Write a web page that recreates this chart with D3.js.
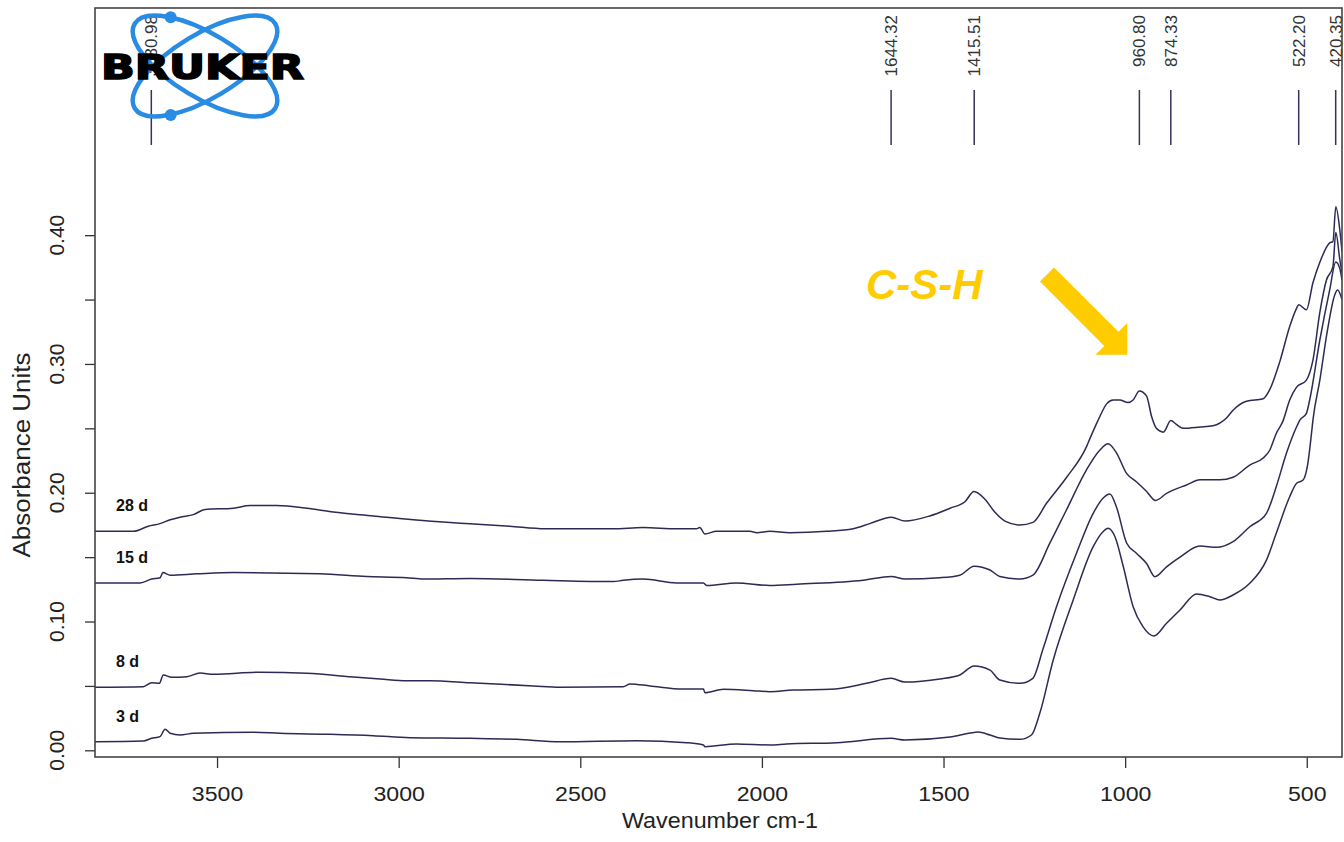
<!DOCTYPE html>
<html>
<head>
<meta charset="utf-8">
<script src="https://cdn.jsdelivr.net/npm/d3@7"></script>
<style>
  html, body { margin: 0; padding: 0; background: #ffffff; }
  svg { display: block; }
</style>
</head>
<body>
<svg id="chart" width="1344" height="842"></svg>
<script>
// FTIR absorbance spectra, [wavenumber cm-1, absorbance]
const spectrum28d = [[3836,0.170],[3730,0.170],[3689,0.174],[3657,0.176],[3629,0.179],[3602,0.181],[3565,0.183],[3533,0.187],[3455,0.188],[3409,0.190],[3336,0.190],[3253,0.188],[3180,0.185],[3070,0.182],[2960,0.179],[2868,0.177],[2804,0.176],[2694,0.174],[2597,0.172],[2410,0.172],[2327,0.173],[2235,0.172],[2180,0.172],[2171,0.173],[2157,0.168],[2125,0.170],[2033,0.170],[2014,0.169],[1978,0.170],[1923,0.169],[1822,0.170],[1749,0.172],[1703,0.176],[1644,0.181],[1606,0.178],[1538,0.182],[1482,0.188],[1441,0.193],[1416,0.201],[1386,0.195],[1359,0.185],[1331,0.178],[1290,0.175],[1254,0.177],[1216,0.192],[1161,0.212],[1106,0.236],[1097,0.242],[1075,0.256],[1070,0.259],[1051,0.269],[1033,0.272],[1015,0.272],[992,0.270],[978,0.272],[961,0.279],[941,0.275],[927,0.259],[914,0.250],[895,0.247],[874,0.256],[859,0.253],[840,0.250],[794,0.251],[758,0.252],[721,0.258],[703,0.264],[666,0.271],[620,0.273],[602,0.280],[574,0.302],[547,0.329],[530,0.342],[522,0.346],[501,0.342],[483,0.363],[464,0.379],[437,0.394],[428,0.395],[420,0.422],[409,0.404],[403,0.387]];

const spectrum15d = [[3836,0.130],[3712,0.130],[3680,0.133],[3657,0.134],[3649,0.138],[3629,0.136],[3556,0.137],[3455,0.138],[3217,0.137],[3088,0.135],[2978,0.134],[2932,0.133],[2804,0.1335],[2602,0.132],[2409,0.131],[2382,0.132],[2327,0.133],[2235,0.130],[2161,0.130],[2152,0.128],[2070,0.130],[1978,0.128],[1904,0.129],[1721,0.132],[1644,0.135],[1606,0.133],[1510,0.134],[1455,0.136],[1416,0.143],[1372,0.140],[1345,0.135],[1290,0.133],[1254,0.136],[1207,0.161],[1161,0.187],[1106,0.218],[1070,0.233],[1047,0.238],[1024,0.231],[996,0.215],[969,0.2085],[941,0.201],[916,0.194],[886,0.1995],[868,0.202],[831,0.206],[794,0.210],[739,0.210],[703,0.212],[657,0.2215],[620,0.227],[602,0.233],[584,0.246],[565,0.256],[547,0.272],[528,0.282],[501,0.2875],[483,0.303],[464,0.340],[446,0.365],[428,0.3755],[420,0.402],[409,0.381],[403,0.371]];

const spectrum8d = [[3836,0.049],[3703,0.0494],[3680,0.0525],[3659,0.052],[3648,0.0585],[3625,0.0567],[3583,0.0571],[3547,0.060],[3510,0.059],[3382,0.0606],[3253,0.0598],[3115,0.0567],[3051,0.0554],[2978,0.054],[2914,0.054],[2804,0.0525],[2629,0.050],[2556,0.049],[2382,0.0494],[2363,0.0515],[2308,0.050],[2217,0.0476],[2161,0.0476],[2157,0.0447],[2106,0.0474],[2024,0.0463],[1978,0.0455],[1914,0.0468],[1812,0.0474],[1712,0.052],[1644,0.0559],[1606,0.053],[1510,0.0554],[1455,0.0585],[1416,0.0655],[1372,0.0623],[1345,0.0546],[1290,0.052],[1254,0.0559],[1227,0.0779],[1189,0.1115],[1134,0.153],[1088,0.184],[1061,0.1957],[1042,0.199],[1024,0.189],[996,0.161],[969,0.153],[941,0.145],[918,0.1348],[886,0.1425],[849,0.150],[794,0.1586],[748,0.1576],[703,0.162],[657,0.1736],[611,0.184],[584,0.2047],[556,0.2306],[528,0.2512],[519,0.2564],[501,0.2616],[492,0.272],[464,0.3186],[437,0.3574],[420,0.3791],[409,0.374],[403,0.365]];

const spectrum3d = [[3836,0.0067],[3703,0.0072],[3680,0.0093],[3657,0.0106],[3643,0.0163],[3629,0.0132],[3602,0.0119],[3565,0.0132],[3400,0.014],[3327,0.0132],[3189,0.0124],[3070,0.0113],[2969,0.0098],[2804,0.0093],[2675,0.0085],[2556,0.0067],[2345,0.0075],[2207,0.0059],[2161,0.0041],[2157,0.0028],[2070,0.0049],[1978,0.0041],[1932,0.0049],[1794,0.0059],[1644,0.0093],[1606,0.008],[1482,0.0103],[1427,0.0134],[1405,0.0142],[1372,0.0119],[1345,0.0095],[1290,0.0085],[1258,0.0119],[1235,0.0287],[1198,0.0701],[1143,0.1167],[1088,0.1581],[1061,0.1697],[1047,0.1724],[1028,0.1658],[1005,0.1425],[978,0.1115],[951,0.096],[921,0.0887],[886,0.0986],[849,0.1089],[803,0.1214],[767,0.1193],[739,0.1167],[703,0.1206],[657,0.1297],[611,0.1477],[584,0.1685],[547,0.1969],[528,0.2073],[510,0.2099],[497,0.2228],[487,0.2461],[483,0.2564],[464,0.2875],[443,0.3263],[423,0.3536],[415,0.3574],[403,0.350]];

const seriesNames = ["28 d", "15 d", "8 d", "3 d"];
const seriesData = [spectrum28d, spectrum15d, spectrum8d, spectrum3d];

// Peak-picked positions (cm-1)
const peakPositions = [3680.98, 1644.32, 1415.51, 960.80, 874.33, 522.20, 420.35];

// Axis ticks
const xTickValues = [3500, 3000, 2500, 2000, 1500, 1000, 500];
const yTickValues = [0.00, 0.05, 0.10, 0.15, 0.20, 0.25, 0.30, 0.35, 0.40];
const yLabelValues = [0.00, 0.10, 0.20, 0.30, 0.40];

const annotationText = "C-S-H";
const xTitle = "Wavenumber cm-1";
const yTitle = "Absorbance Units";

// ---- layout ----
const plot = { left: 95, right: 1342, top: 8, bottom: 757 };
const curveColor = "#2b2b55";
const svg = d3.select("#chart");

const x = d3.scaleLinear().domain([3836, 403]).range([plot.left, plot.right]);
const y = d3.scaleLinear().domain([-0.0052, 0.5764]).range([plot.bottom, plot.top]);

svg.append("defs").append("clipPath").attr("id", "plotClip")
  .append("rect")
  .attr("x", plot.left).attr("y", plot.top)
  .attr("width", plot.right - plot.left).attr("height", plot.bottom - plot.top);

// x axis ticks and labels
const xAxis = svg.append("g")
  .attr("transform", `translate(0,${plot.bottom})`)
  .call(d3.axisBottom(x).tickValues(xTickValues).tickSize(11).tickPadding(18).tickFormat(d3.format("d")));
xAxis.select(".domain").remove();
xAxis.selectAll(".tick line").attr("stroke", "#333").attr("stroke-width", 1.3);
xAxis.selectAll(".tick text")
  .attr("fill", "#222")
  .style("font-family", "Liberation Sans, Arial, sans-serif")
  .style("font-size", "21px")
  .attr("transform", "scale(1.1,1)");

// y axis ticks
const yAxis = svg.append("g")
  .attr("transform", `translate(${plot.left},0)`)
  .call(d3.axisLeft(y).tickValues(yTickValues).tickSize(10).tickFormat(""));
yAxis.select(".domain").remove();
yAxis.selectAll(".tick line").attr("stroke", "#333").attr("stroke-width", 1.3);

// y tick labels, rotated
svg.append("g").selectAll("text")
  .data(yLabelValues)
  .join("text")
  .attr("transform", d => `translate(64,${y(d)}) rotate(-90)`)
  .attr("text-anchor", "middle")
  .attr("fill", "#222")
  .style("font-family", "Liberation Sans, Arial, sans-serif")
  .style("font-size", "21px")
  .text(d => d3.format(".2f")(d));

// axis titles
svg.append("text")
  .attr("x", 720 / 1.06).attr("y", 828)
  .attr("transform", "scale(1.06,1)")
  .attr("text-anchor", "middle")
  .attr("fill", "#222")
  .style("font-family", "Liberation Sans, Arial, sans-serif")
  .style("font-size", "22px")
  .text(xTitle);

svg.append("text")
  .attr("transform", "translate(30,455) rotate(-90)")
  .attr("text-anchor", "middle")
  .attr("textLength", 205)
  .attr("lengthAdjust", "spacingAndGlyphs")
  .attr("fill", "#222")
  .style("font-family", "Liberation Sans, Arial, sans-serif")
  .style("font-size", "23px")
  .text(yTitle);

// spectra
const line = d3.line()
  .x(d => x(d[0]))
  .y(d => y(d[1]))
  .curve(d3.curveMonotoneX);

const curves = svg.append("g").attr("clip-path", "url(#plotClip)");
curves.selectAll("path")
  .data(seriesData)
  .join("path")
  .attr("d", d => line(d.slice().sort((a, b) => a[0] - b[0])))
  .attr("fill", "none")
  .attr("stroke", curveColor)
  .attr("stroke-width", 1.5)
  .attr("stroke-linejoin", "round");

// series labels above the left end of each spectrum
svg.append("g").selectAll("text")
  .data(seriesData.map((d, i) => ({ name: seriesNames[i], first: d[0] })))
  .join("text")
  .attr("x", 116)
  .attr("y", d => y(d.first[1]) - 20)
  .attr("fill", "#111")
  .style("font-family", "Liberation Sans, Arial, sans-serif")
  .style("font-weight", "bold")
  .style("font-size", "16px")
  .text(d => d.name);

// peak markers
const peaks = svg.append("g");
peaks.selectAll("line")
  .data(peakPositions)
  .join("line")
  .attr("x1", d => x(d)).attr("x2", d => x(d))
  .attr("y1", 90).attr("y2", 145)
  .attr("stroke", "#34345a")
  .attr("stroke-width", 1.5);
peaks.selectAll("text")
  .data(peakPositions)
  .join("text")
  .attr("transform", d => `translate(${x(d) + 6},15) rotate(-90)`)
  .attr("text-anchor", "end")
  .attr("fill", "#333")
  .style("font-family", "Liberation Sans, Arial, sans-serif")
  .style("font-size", "17px")
  .text(d => d.toFixed(2));

// plot frame
svg.append("rect")
  .attr("x", plot.left).attr("y", plot.top)
  .attr("width", plot.right - plot.left).attr("height", plot.bottom - plot.top)
  .attr("fill", "none")
  .attr("stroke", "#444")
  .attr("stroke-width", 1.6);

// instrument logo
const logo = svg.append("g");
const logoBlue = "#2a8be3";
[31, -31].forEach(angle => {
  logo.append("ellipse")
    .attr("cx", 0).attr("cy", 0).attr("rx", 82).attr("ry", 32)
    .attr("transform", `translate(205,66) rotate(${angle})`)
    .attr("fill", "none")
    .attr("stroke", logoBlue)
    .attr("stroke-width", 4.5);
});
[[170.7, 17.3], [170.7, 115]].forEach(p => {
  logo.append("circle").attr("cx", p[0]).attr("cy", p[1]).attr("r", 6).attr("fill", logoBlue);
});
logo.append("text")
  .attr("x", 101).attr("y", 79)
  .attr("textLength", 203)
  .attr("lengthAdjust", "spacingAndGlyphs")
  .attr("fill", "#000")
  .attr("stroke", "#000")
  .attr("stroke-width", 1.6)
  .style("font-family", "DejaVu Sans, Arial, sans-serif")
  .style("font-weight", "bold")
  .style("font-size", "33px")
  .text("BRUKER");

// C-S-H annotation with arrow
svg.append("text")
  .attr("x", 866).attr("y", 299)
  .attr("fill", "#ffcc00")
  .style("font-family", "Liberation Sans, Arial, sans-serif")
  .style("font-weight", "bold")
  .style("font-style", "italic")
  .style("font-size", "42px")
  .text(annotationText);

const shaftLen = 91, shaftHalf = 10, headHalf = 22.5, headLen = 22.5;
svg.append("polygon")
  .attr("points", [
    [0, -shaftHalf], [shaftLen, -shaftHalf], [shaftLen, -headHalf],
    [shaftLen + headLen, 0],
    [shaftLen, headHalf], [shaftLen, shaftHalf], [0, shaftHalf]
  ].map(p => p.join(",")).join(" "))
  .attr("transform", "translate(1047,274.5) rotate(45)")
  .attr("fill", "#ffcc00");
</script>
</body>
</html>
